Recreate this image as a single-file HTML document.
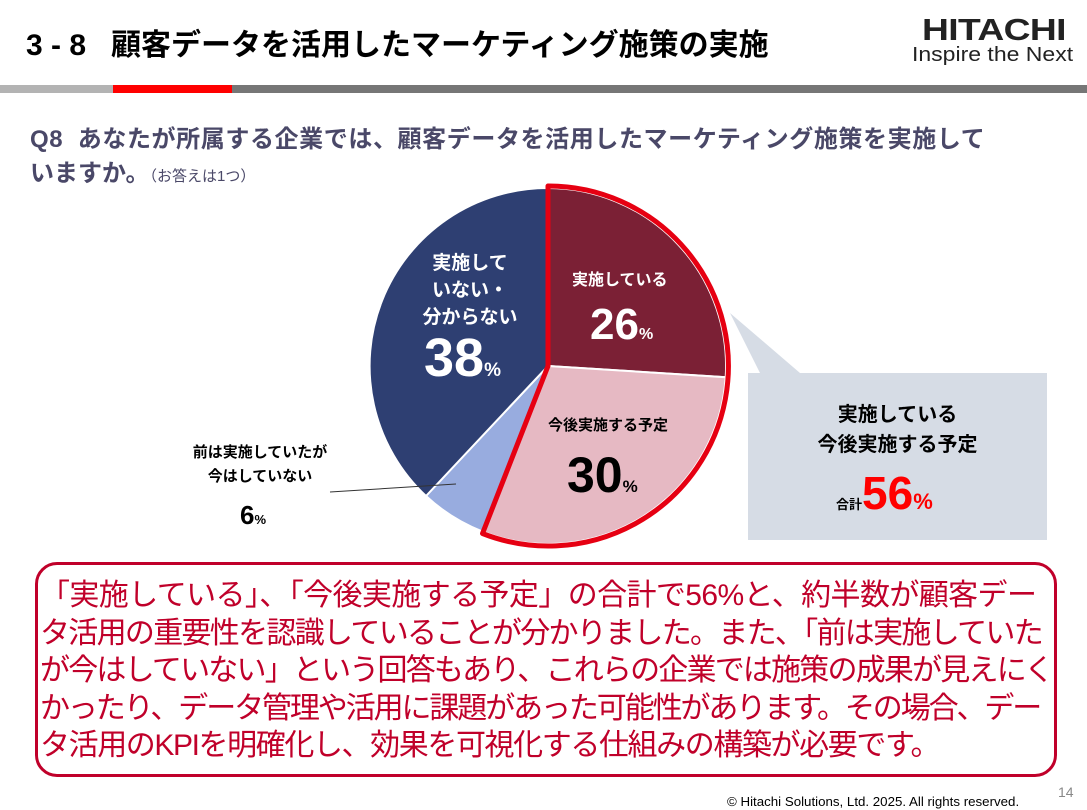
<!DOCTYPE html>
<html><head><meta charset="utf-8"><style>
body{margin:0;width:1087px;height:810px;background:#fff;position:relative;overflow:hidden;font-family:"Liberation Sans","Noto Sans CJK JP",sans-serif}
.a{position:absolute;white-space:nowrap}
.l{display:block;height:37.6px}
</style></head><body>
<div class="a" style="left:26px;top:20px;font-size:30px;font-weight:bold;color:#000">3 - 8&nbsp;&nbsp; 顧客データを活用したマーケティング施策の実施</div>
<div class="a" style="left:922px;top:12px;font-size:31px;font-weight:bold;color:#222;letter-spacing:-0.5px;transform:scaleX(1.2);transform-origin:0 0">HITACHI</div>
<div class="a" style="left:912px;top:44px;font-size:20px;color:#222;transform:scaleX(1.15);transform-origin:0 0">Inspire the Next</div>
<div class="a" style="left:0;top:85px;width:113px;height:8px;background:#b3b3b3"></div>
<div class="a" style="left:113px;top:85px;width:119px;height:8px;background:#ff0000"></div>
<div class="a" style="left:232px;top:85px;width:855px;height:8px;background:#767676"></div>
<div class="a" style="left:30px;top:119px;font-size:24px;font-weight:bold;color:#4a4868;letter-spacing:0.6px">Q8&nbsp; あなたが所属する企業では、顧客データを活用したマーケティング施策を実施して</div>
<div class="a" style="left:30px;top:153px;font-size:24px;font-weight:bold;color:#4a4868">いますか。<span style="font-size:15px;font-weight:normal">（お答えは1つ）</span></div>

<svg class="a" style="left:0;top:0" width="1087" height="810">
<polygon points="730,313 800,373 760,373" fill="#d6dce5"/>
<rect x="748" y="373" width="299" height="167" fill="#d6dce5"/>
<g stroke="#fff" stroke-width="2">
<path d="M548,366 L548,188 A178,178 0 0 1 725.7,377.2 Z" fill="#7b2035"/>
<path d="M548,366 L725.7,377.2 A178,178 0 0 1 482.5,531.5 Z" fill="#e6b9c3"/>
<path d="M548,366 L482.5,531.5 A178,178 0 0 1 426,496 Z" fill="#98acdf"/>
<path d="M548,366 L426,496 A178,178 0 0 1 548,188 Z" fill="#2e3f72"/>
</g>
<path d="M548,366 L548,186 A180,180 0 1 1 482.5,533.5 Z" fill="none" stroke="#e60012" stroke-width="5" stroke-linejoin="round"/>
<line x1="330" y1="492" x2="456" y2="484" stroke="#333" stroke-width="1"/>
</svg>

<div class="a" style="left:572px;top:266px;font-size:16px;font-weight:bold;color:#fff">実施している</div>
<div class="a" style="left:590px;top:300px;font-size:44px;font-weight:bold;color:#fff">26<span style="font-size:16px">%</span></div>
<div class="a" style="left:548px;top:414px;font-size:15px;font-weight:bold;color:#000">今後実施する予定</div>
<div class="a" style="left:567px;top:446px;font-size:50px;font-weight:bold;color:#000">30<span style="font-size:17px">%</span></div>
<div class="a" style="left:400px;top:250px;width:140px;text-align:center;font-size:19px;font-weight:bold;color:#fff;line-height:27px">実施して<br>いない・<br>分からない</div>
<div class="a" style="left:424px;top:327px;font-size:54px;font-weight:bold;color:#fff">38<span style="font-size:19px">%</span></div>
<div class="a" style="left:180px;top:441px;width:160px;text-align:center;font-size:15px;font-weight:bold;color:#000;line-height:24px">前は実施していたが<br>今はしていない</div>
<div class="a" style="left:240px;top:500px;font-size:26px;font-weight:bold;color:#000">6<span style="font-size:13px">%</span></div>
<div class="a" style="left:748px;top:400px;width:299px;text-align:center;font-size:20px;font-weight:bold;color:#000;line-height:30px">実施している<br>今後実施する予定</div>
<div class="a" style="left:836px;top:466px;font-size:13px;font-weight:bold;color:#000">合計<span style="font-size:46px;color:#ff0000">56</span><span style="font-size:22px;color:#ff0000">%</span></div>

<div class="a" style="left:35px;top:562px;width:1016px;height:209px;border:3px solid #c0002a;border-radius:22px"></div>
<div class="a" style="left:40px;top:577px;font-size:30px;line-height:37.6px;color:#c0002a">
<span class="l" style="letter-spacing:-0.6px">「実施している」、「今後実施する予定」の合計で56%と、約半数が顧客デー</span>
<span class="l" style="letter-spacing:-1.7px">タ活用の重要性を認識していることが分かりました。また、「前は実施していた</span>
<span class="l" style="letter-spacing:-1.8px">が今はしていない」という回答もあり、これらの企業では施策の成果が見えにく</span>
<span class="l" style="letter-spacing:-2.1px">かったり、データ管理や活用に課題があった可能性があります。その場合、デー</span>
<span class="l" style="letter-spacing:-1.4px">タ活用のKPIを明確化し、効果を可視化する仕組みの構築が必要です。</span>
</div>

<div class="a" style="left:727px;top:794px;font-size:13.3px;color:#000">© Hitachi Solutions, Ltd. 2025. All rights reserved.</div>
<div class="a" style="left:1058px;top:784px;font-size:14px;color:#888">14</div>
</body></html>
